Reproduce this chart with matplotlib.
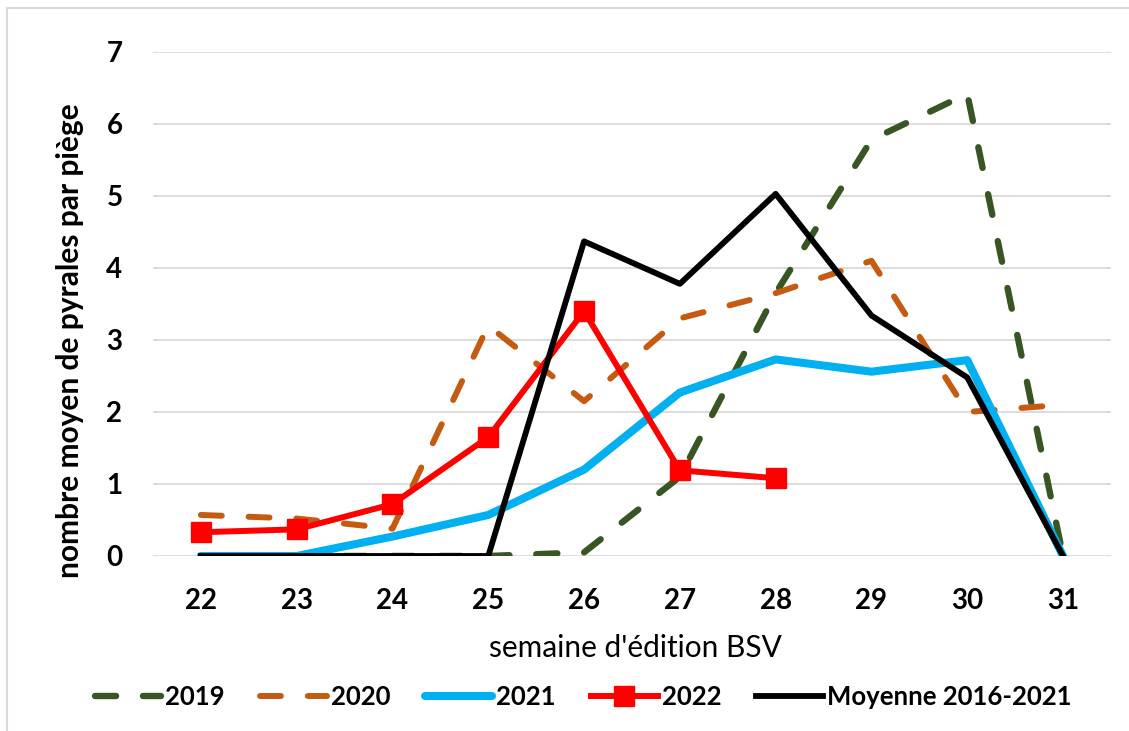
import matplotlib.pyplot as plt
import matplotlib.patches as mpatches
import numpy as np

weeks = [22, 23, 24, 25, 26, 27, 28, 29, 30, 31]
y2019 = [0, 0, 0, 0, 0.05, 1.1, 3.65, 5.78, 6.42, 0]
y2020 = [0.57, 0.52, 0.38, 3.2, 2.15, 3.3, 3.65, 4.1, 2.0, 2.1]
y2021 = [0, 0, 0.27, 0.57, 1.2, 2.27, 2.73, 2.56, 2.72, 0]
y2022 = [0.33, 0.37, 0.72, 1.65, 3.4, 1.19, 1.08]
moyenne = [0, 0, 0, 0, 4.37, 3.78, 5.03, 3.34, 2.48, 0]

plt.rcParams['font.family'] = ['Lato', 'DejaVu Sans']

fig = plt.figure(figsize=(11.29, 7.31), dpi=100)
ax = fig.add_axes([0.1355, 0.2394, 0.8485, 0.6895])

x = np.arange(len(weeks))
ax.plot(x, y2019, color='#375623', lw=4.6, dashes=(3.3, 4.2),
        dash_capstyle='round', label='2019')
ax.plot(x, y2020, color='#c55a11', lw=4.3, dashes=(3.5, 4.5),
        dash_capstyle='round', label='2020')
ax.plot(x, y2021, color='#00b0f0', lw=5.8, solid_capstyle='round', label='2021')
ax.plot(x[:len(y2022)], y2022, color='#ff0000', lw=4.3, marker='s', markersize=15,
        label='2022')
ax.plot(x, moyenne, color='black', lw=4.2, label='Moyenne 2016-2021')

ax.set_xlim(-0.5, len(weeks) - 0.5)
ax.set_ylim(0, 7)
ax.set_yticks(range(8))
ax.set_xticks(x)
ax.set_xticklabels([str(w) for w in weeks])
ax.tick_params(length=0, labelsize=20)
ax.tick_params(axis='y', pad=22)
ax.tick_params(axis='x', pad=23)
for lab in ax.get_xticklabels() + ax.get_yticklabels():
    lab.set_fontweight('bold')
ax.grid(axis='y', color='#d9d9d9', lw=1.3)
ax.set_axisbelow(True)
for s in ax.spines.values():
    s.set_visible(False)

fig.text(0.062, 1 - 341 / 731, 'nombre moyen de pyrales par piège', rotation=90,
         ha='center', va='center', fontsize=21.5, fontweight='bold')
fig.text(635 / 1129, 1 - 648 / 731, "semaine d'édition BSV", ha='center', va='center',
         fontsize=21.5)

fig.legend(loc='center', bbox_to_anchor=(583 / 1129, 1 - 697 / 731), ncol=5,
           frameon=False, prop={'size': 18.5, 'weight': 'bold'},
           handlelength=2.6, handletextpad=0.16, columnspacing=1.36)

fig.patches.append(mpatches.Rectangle((7 / 1129, -0.05), 1.1, 1 - 8 / 731 + 0.05,
                                      transform=fig.transFigure, fill=False,
                                      edgecolor='#d9d9d9', lw=1.5))

fig.savefig('out.png', dpi=100)
